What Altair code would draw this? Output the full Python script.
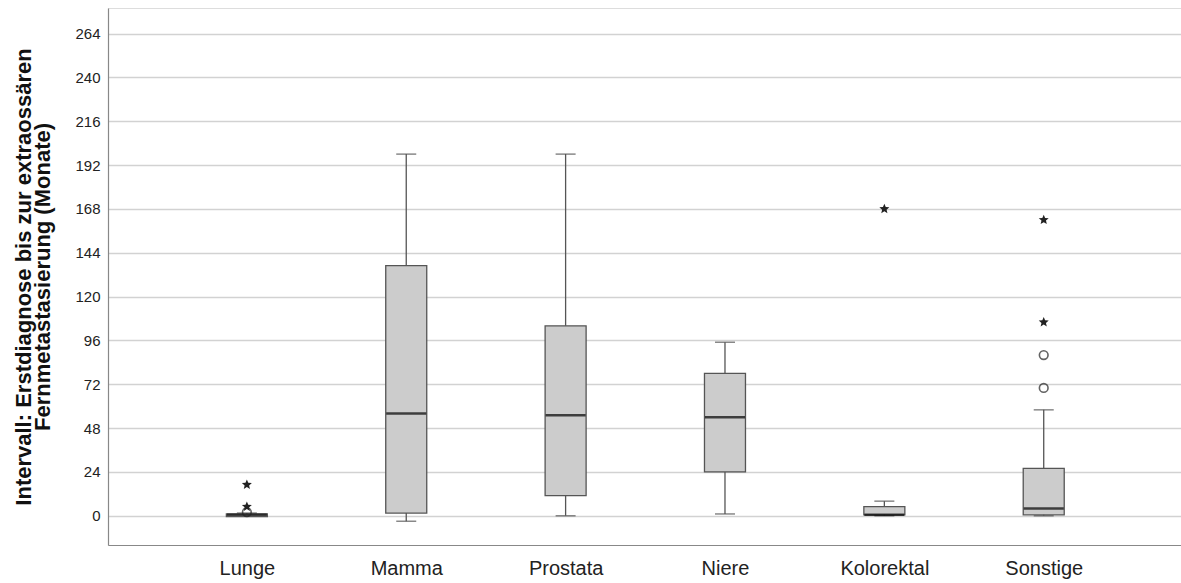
import altair as alt
import pandas as pd

categories = ["Lunge", "Mamma", "Prostata", "Niere", "Kolorektal", "Sonstige"]
whisker_low = [0, -3, 0, 1, 0, 0]
q1 = [-0.5, 1.5, 11, 24, 0.5, 0.5]
median = [0.5, 56, 55, 54, 0.5, 4]
q3 = [1, 137, 104, 78, 5, 26]
whisker_high = [1.5, 198, 198, 95, 8, 58]

outlier_cat = ["Lunge", "Lunge", "Lunge", "Kolorektal", "Sonstige", "Sonstige", "Sonstige", "Sonstige"]
outlier_val = [17, 5, 2, 168, 162, 106, 88, 70]
outlier_kind = ["extreme", "extreme", "mild", "extreme", "extreme", "extreme", "mild", "mild"]

pos = {c: i for i, c in enumerate(categories)}

boxes = pd.DataFrame({
    "cat": categories,
    "pos": [pos[c] for c in categories],
    "lo": whisker_low, "q1": q1, "med": median, "q3": q3, "hi": whisker_high,
})
outl = pd.DataFrame({
    "cat": outlier_cat,
    "pos": [pos[c] for c in outlier_cat],
    "val": outlier_val,
    "kind": outlier_kind,
})

FONT = "Liberation Sans"
label_expr = "[" + ",".join('"%s"' % c for c in categories) + "][datum.value]"

xscale = alt.Scale(domain=[-0.84, 5.83], nice=False, zero=False)
yscale = alt.Scale(domain=[-16, 278], nice=False, zero=False)

x_enc = alt.X("pos:Q", scale=xscale, axis=alt.Axis(
    values=list(range(len(categories))), labelExpr=label_expr, title=None,
    grid=False, ticks=False, labelFontSize=20, labelFont=FONT, labelColor="#222",
    labelPadding=13, domainColor="#888", domainWidth=1.2))

y_title = ["Intervall: Erstdiagnose bis zur extraossären", "Fernmetastasierung (Monate)"]

base = alt.Chart(boxes)

whisk = base.mark_rule(color="#555", strokeWidth=1.3).encode(
    x=x_enc,
    y=alt.Y("lo:Q", scale=yscale, axis=alt.Axis(
        values=list(range(0, 265, 24)), title=y_title, titleFont=FONT,
        titleFontSize=22, titleFontWeight="bold", titleColor="#111",
        titlePadding=20, titleLineHeight=19,
        labelFont=FONT, labelFontSize=15, labelColor="#222", labelPadding=8,
        ticks=False, grid=True, gridColor="#d2d2d2", gridWidth=1.5,
        domainColor="#888", domainWidth=1.2)),
    y2="hi:Q",
)

cap_lo = base.mark_tick(orient="horizontal", size=20, thickness=1.5, color="#555").encode(
    x="pos:Q", y="lo:Q")
cap_hi = base.mark_tick(orient="horizontal", size=20, thickness=1.5, color="#555").encode(
    x="pos:Q", y="hi:Q")

box = base.mark_bar(size=41, fill="#cccccc", stroke="#555", strokeWidth=1.3).encode(
    x="pos:Q", y="q1:Q", y2="q3:Q")

med = base.mark_tick(orient="horizontal", size=40, thickness=2.5, color="#000").encode(
    x="pos:Q", y="med:Q")

circles = alt.Chart(outl).transform_filter("datum.kind == 'mild'").mark_point(
    shape="circle", size=75, filled=False, color="#222", strokeWidth=1.6).encode(
    x="pos:Q", y="val:Q")

STAR = ("M0,-1 L0.265,-0.364 L0.951,-0.309 L0.428,0.139 L0.588,0.809 L0,0.45 "
        "L-0.588,0.809 L-0.428,0.139 L-0.951,-0.309 L-0.265,-0.364 Z")
stars = alt.Chart(outl).transform_filter("datum.kind == 'extreme'").mark_point(
    shape=STAR, size=110, filled=True, color="#222", opacity=1).encode(
    x="pos:Q", y="val:Q")

chart = alt.layer(whisk, cap_lo, cap_hi, box, med, circles, stars).properties(
    width=1073, height=537,
    padding={"left": 108, "top": 8, "right": 0, "bottom": 38},
    autosize=alt.AutoSizeParams(type="none"),
).configure_view(strokeWidth=0).configure(background="white")

chart.save("out.html", embed_options={"renderer": "svg", "actions": False})
